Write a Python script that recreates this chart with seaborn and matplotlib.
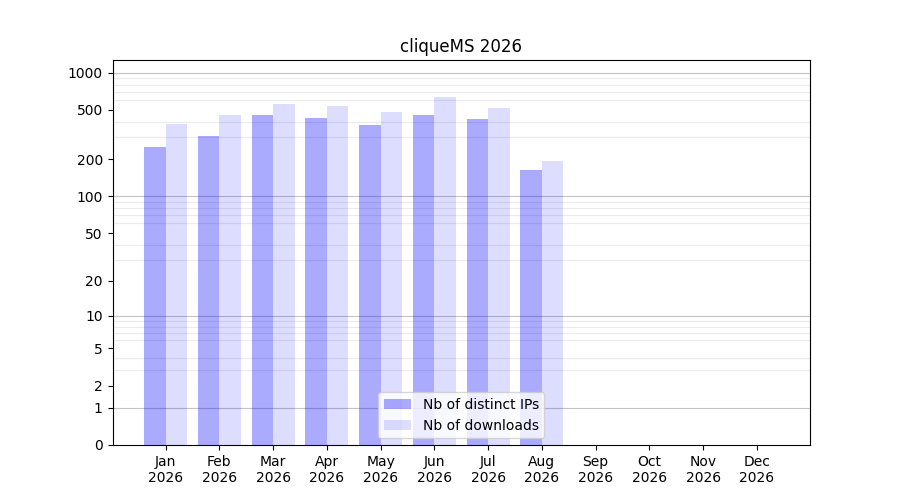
#!/usr/bin/env python3
"""
Monthly download stats for cliqueMS (2026), log(1+x) scale bars.
"""

import numpy as np
import pandas as pd
import matplotlib
matplotlib.use("Agg")
import matplotlib.pyplot as plt
import seaborn as sns

# --- Data ---
months = ['Jan', 'Feb', 'Mar', 'Apr', 'May', 'Jun',
          'Jul', 'Aug', 'Sep', 'Oct', 'Nov', 'Dec']
year = 2026
distinct_ips = [249, 306, 452, 427, 375, 452, 420, 163, 0, 0, 0, 0]
downloads = [382, 452, 555, 535, 478, 632, 515, 195, 0, 0, 0, 0]
series_labels = ['Nb of distinct IPs', 'Nb of downloads']
y_ticks = [0, 1, 2, 5, 10, 20, 50, 100, 200, 500, 1000]

df = pd.DataFrame({
    'month': months * 2,
    'count': distinct_ips + downloads,
    'series': [series_labels[0]] * 12 + [series_labels[1]] * 12,
})


def fwd(x):
    return np.log10(1 + np.clip(x, 0, None))


def inv(y):
    return 10 ** y - 1


fig, ax = plt.subplots(figsize=(9, 5), dpi=100)

sns.barplot(data=df, x='month', y='count', hue='series',
            hue_order=series_labels, palette=['blue', 'blue'],
            width=0.8, legend=False, ax=ax, zorder=2)

alphas = [1 / 3, 0.135]
for cont, a in zip(ax.containers, alphas):
    for p in cont:
        p.set_facecolor((0, 0, 1, a))
        p.set_edgecolor('none')

ax.set_yscale('function', functions=(fwd, inv))
ax.set_ylim(0, 1265)
ax.set_xlim(-0.99, 11.99)

# minor grid at k*10^n, darker lines at decades
minor = [k * 10 ** n for n in range(0, 3) for k in range(2, 10)]
ax.set_yticks(minor, minor=True)
ax.tick_params(axis='y', which='minor', length=0)
ax.grid(True, axis='y', which='minor', color='#ebebeb', linewidth=0.8, zorder=1)
for d in [1, 10, 100, 1000]:
    ax.axhline(d, color='#c4c4c4', linewidth=0.8, zorder=1)

ax.set_yticks(y_ticks)
ax.set_yticklabels([str(t) for t in y_ticks])
ax.set_xticks(range(12))
ax.set_xticklabels([f"{m}\n{year}" for m in months])
ax.set_xlabel('')
ax.set_ylabel('')
ax.set_title(f'cliqueMS {year}')

ax.legend(ax.containers, series_labels, loc='lower center')

plt.savefig('out.png')
plt.close()
